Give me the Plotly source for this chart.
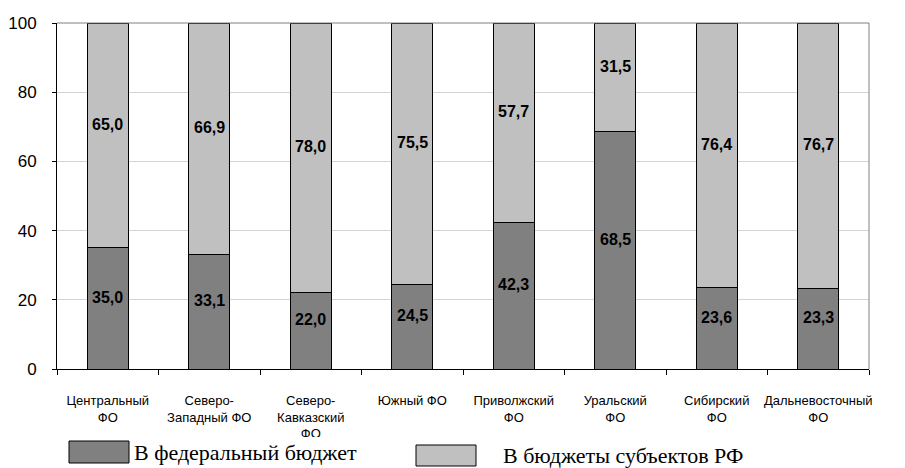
import plotly.graph_objects as go

categories = ["Центральный<br>ФО", "Северо-<br>Западный ФО", "Северо-<br>Кавказский<br>ФО",
              "Южный ФО", "Приволжский<br>ФО", "Уральский<br>ФО", "Сибирский<br>ФО",
              "Дальневосточный<br>ФО"]
federal = [35.0, 33.1, 22.0, 24.5, 42.3, 68.5, 23.6, 23.3]
regional = [65.0, 66.9, 78.0, 75.5, 57.7, 31.5, 76.4, 76.7]
series_names = ["В федеральный бюджет", "В бюджеты субъектов РФ"]
y_ticks = [0, 20, 40, 60, 80, 100]

W, H = 905, 468
L, R, T, B = 57, 869, 23, 369
def px(x):
    return (x - L) / (R - L)
def py(y):
    return (B - y) / (B - T)

DARK = "#808080"
LIGHT = "#C0C0C0"
AX_FONT = "Arial, Liberation Sans, sans-serif"
SERIF = "Times New Roman, Liberation Serif, serif"

fig = go.Figure()
fig.add_trace(go.Bar(x=categories, y=federal, name=series_names[0],
                     marker=dict(color=DARK, line=dict(color="#000000", width=1)),
                     showlegend=False, hoverinfo="skip"))
fig.add_trace(go.Bar(x=categories, y=regional, name=series_names[1],
                     marker=dict(color=LIGHT, line=dict(color="#000000", width=1)),
                     showlegend=False, hoverinfo="skip"))

def fmt(v):
    return "<b>" + f"{v:.1f}".replace(".", ",") + "</b>"

annotations = []
for c, f, r in zip(categories, federal, regional):
    annotations.append(dict(x=c, y=f / 2, xref="x", yref="y", text=fmt(f), showarrow=False,
                            yshift=11, font=dict(family=AX_FONT, size=16, color="#000000")))
    annotations.append(dict(x=c, y=f + r / 2, xref="x", yref="y", text=fmt(r), showarrow=False,
                            yshift=11, font=dict(family=AX_FONT, size=16, color="#000000")))

# legend drawn manually
annotations.append(dict(x=px(132), y=py(452), xref="paper", yref="paper", xanchor="left",
                        yanchor="middle", text=series_names[0], showarrow=False,
                        font=dict(family=SERIF, size=22, color="#000000")))
annotations.append(dict(x=px(501), y=py(455), xref="paper", yref="paper", xanchor="left",
                        yanchor="middle", text=series_names[1], showarrow=False,
                        font=dict(family=SERIF, size=22, color="#000000")))

shapes = [
    # plot border top/right
    dict(type="line", xref="paper", yref="paper", x0=0, x1=1, y0=1, y1=1,
         line=dict(color="#808080", width=1), layer="above"),
    dict(type="line", xref="paper", yref="paper", x0=1, x1=1, y0=0, y1=1,
         line=dict(color="#808080", width=1), layer="above"),
    # white area clipping the x labels under the legend
    dict(type="rect", xref="paper", yref="paper", x0=px(0), x1=px(W), y0=py(437), y1=py(H + 5),
         fillcolor="#FFFFFF", line=dict(width=0), layer="above"),
    dict(type="rect", xref="paper", yref="paper", x0=px(69), x1=px(129), y0=py(463), y1=py(441),
         fillcolor=DARK, line=dict(color="#000000", width=1), layer="above"),
    dict(type="rect", xref="paper", yref="paper", x0=px(416), x1=px(476), y0=py(466), y1=py(445),
         fillcolor=LIGHT, line=dict(color="#000000", width=1), layer="above"),
]

fig.update_layout(
    width=W, height=H,
    margin=dict(l=L, r=W - R, t=T, b=H - B, pad=0),
    barmode="stack", bargap=0.596,
    plot_bgcolor="#FFFFFF", paper_bgcolor="#FFFFFF",
    annotations=annotations, shapes=shapes,
    xaxis=dict(showline=True, linecolor="#000000", linewidth=1, ticks="outside",
               tickson="boundaries", ticklen=5, tickcolor="#000000", showgrid=False,
               tickfont=dict(family=AX_FONT, size=13, color="#000000"), tickangle=0,
               ticklabelstandoff=19, fixedrange=True, automargin=False),
    yaxis=dict(range=[0, 100], tickvals=y_ticks, showline=True, linecolor="#000000",
               linewidth=1, ticks="outside", ticklen=4, tickcolor="#000000",
               showgrid=True, gridcolor="#D4D4D4", gridwidth=1, zeroline=False,
               tickfont=dict(family=AX_FONT, size=17, color="#000000"),
               ticklabelstandoff=12, fixedrange=True, automargin=False),
)

fig.write_html("out.html", config={"displayModeBar": False},
               post_script="document.body.style.margin='0';document.body.style.overflow='hidden';")
